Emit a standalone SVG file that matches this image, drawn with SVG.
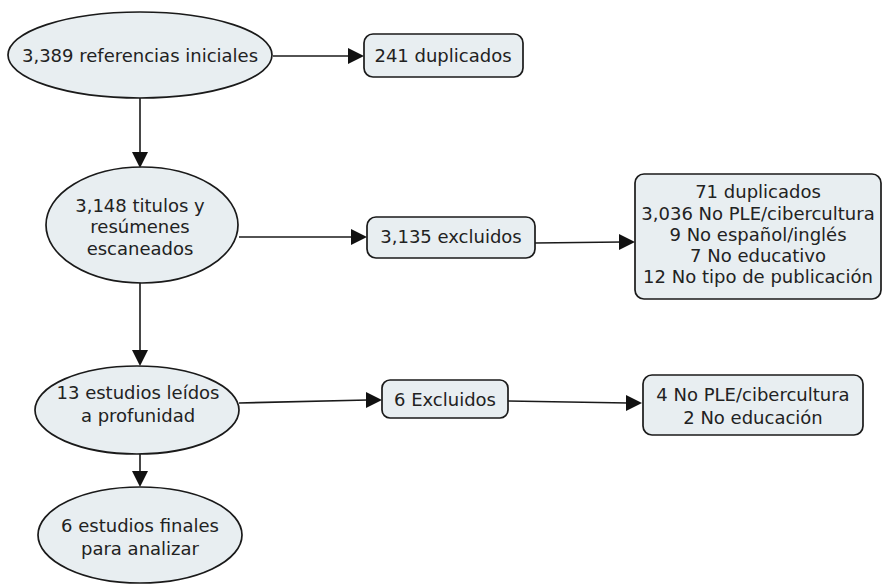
<svg xmlns="http://www.w3.org/2000/svg" width="886" height="584" viewBox="0 0 886 584">
<style>
.n{fill:#e8eef1;stroke:#1a1a1a;stroke-width:1.7}
.t{font-family:"DejaVu Sans",Verdana,sans-serif;font-size:18px;fill:#222;text-anchor:middle}
.l{stroke:#1a1a1a;stroke-width:1.6;fill:none}
.h{fill:#111}
</style>
<rect width="886" height="584" fill="#fff"/>
<g id="connectors">
<path class="l" d="M273,56 L350,56"/>
<path class="h" d="M348,48 L364,56 L348,64 z"/>
<path class="l" d="M140,98 L140,155"/>
<path class="h" d="M132,152 L140,168 L148,152 z"/>
<path class="l" d="M239,237 L354,237"/>
<path class="h" d="M351,229 L367,237 L351,245 z"/>
<path class="l" d="M535,243 L622,242"/>
<path class="h" d="M619,234 L635,242 L619,250 z"/>
<path class="l" d="M140,283 L140,354"/>
<path class="h" d="M132,350 L140,366 L148,350 z"/>
<path class="l" d="M239,403 L368,400"/>
<path class="h" d="M366,392 L382,400 L366,408 z"/>
<path class="l" d="M508,401 L628,403"/>
<path class="h" d="M626,395 L642,403 L626,411 z"/>
<path class="l" d="M140,453 L140,476"/>
<path class="h" d="M132,471 L140,487 L148,471 z"/>
</g>
<g id="n1"><ellipse class="n" cx="140" cy="55" rx="132" ry="43"/><text class="t" x="140" y="62">3,389 referencias iniciales</text></g>
<g id="n2"><rect class="n" x="364" y="34" width="159" height="43" rx="9"/><text class="t" x="443" y="62">241 duplicados</text></g>
<g id="n3"><ellipse class="n" cx="142" cy="225" rx="96" ry="58"/><text class="t" x="140" y="212">3,148 titulos y</text><text class="t" x="140" y="233">resúmenes</text><text class="t" x="140" y="255">escaneados</text></g>
<g id="n4"><rect class="n" x="367" y="217" width="168" height="41" rx="9"/><text class="t" x="451" y="243">3,135 excluidos</text></g>
<g id="n5"><rect class="n" x="635" y="174" width="246" height="125" rx="9"/><text class="t" x="758" y="198">71 duplicados</text><text class="t" x="758" y="220">3,036 No PLE/cibercultura</text><text class="t" x="758" y="241">9 No español/inglés</text><text class="t" x="758" y="262">7 No educativo</text><text class="t" x="758" y="283">12 No tipo de publicación</text></g>
<g id="n6"><ellipse class="n" cx="137" cy="410" rx="102" ry="44"/><text class="t" x="138" y="399">13 estudios leídos</text><text class="t" x="138" y="422">a profunidad</text></g>
<g id="n7"><rect class="n" x="382" y="380" width="126" height="38" rx="8"/><text class="t" x="445" y="406">6 Excluidos</text></g>
<g id="n8"><rect class="n" x="643" y="375" width="220" height="60" rx="9"/><text class="t" x="753" y="401">4 No PLE/cibercultura</text><text class="t" x="753" y="424">2 No educación</text></g>
<g id="n9"><ellipse class="n" cx="140" cy="535" rx="102" ry="48"/><text class="t" x="140" y="532">6 estudios  finales</text><text class="t" x="140" y="555">para analizar</text></g>
</svg>
